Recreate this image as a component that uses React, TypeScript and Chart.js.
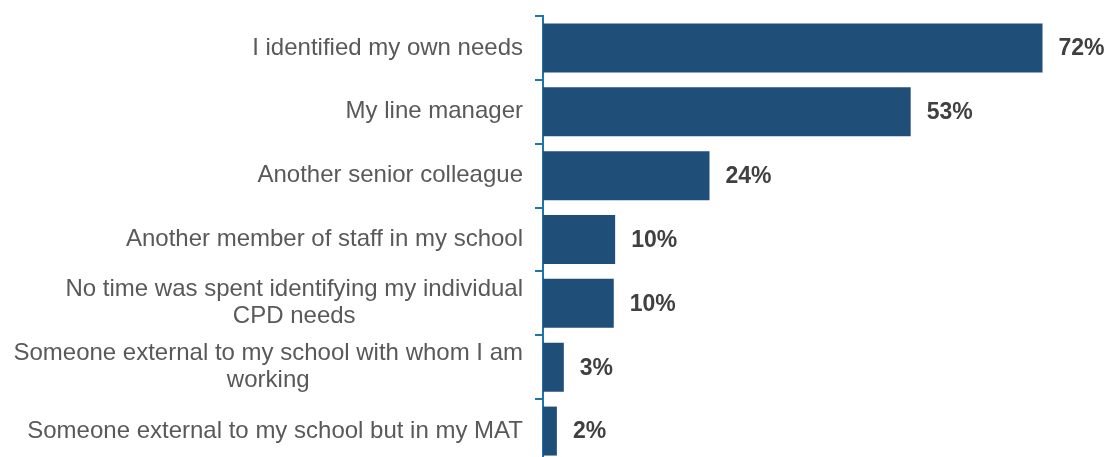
import React, { useEffect, useRef } from "react";
import { Chart, registerables } from "chart.js";

Chart.register(...registerables);

const categories: string[][] = [
  ["I identified my own needs"],
  ["My line manager"],
  ["Another senior colleague"],
  ["Another member of staff in my school"],
  ["No time was spent identifying my individual", "CPD needs"],
  ["Someone external to my school with whom I am", "working"],
  ["Someone external to my school but in my MAT"],
];
const values: number[] = [72, 53, 24, 10.4, 10.2, 3, 2];
const valueLabels: string[] = ["72%", "53%", "24%", "10%", "10%", "3%", "2%"];

const FONT = "'Liberation Sans', Arial, sans-serif";
const AXIS_LEFT = 543;
const LABEL_RIGHT = 523;

const labelPlugin = {
  id: "customLabels",
  afterDatasetsDraw(chart: any) {
    const ctx = chart.ctx;
    const yScale = chart.scales.y;
    const meta = chart.getDatasetMeta(0);
    ctx.save();
    ctx.textBaseline = "middle";
    ctx.font = `24px ${FONT}`;
    ctx.fillStyle = "#595959";
    const lh = 27;
    categories.forEach((lines, i) => {
      const y = yScale.getPixelForTick(i);
      const maxW = Math.max(...lines.map((l) => ctx.measureText(l).width));
      const cx = LABEL_RIGHT - maxW / 2;
      ctx.textAlign = "center";
      lines.forEach((l, j) => {
        const ly = y + (j - (lines.length - 1) / 2) * lh;
        ctx.fillText(l, cx, ly);
      });
    });
    ctx.font = `bold 23px ${FONT}`;
    ctx.fillStyle = "#404040";
    ctx.textAlign = "left";
    meta.data.forEach((bar: any, i: number) => {
      ctx.fillText(valueLabels[i], bar.x + 16, bar.y + 1);
    });
    ctx.restore();
  },
};

export default function App() {
  const ref = useRef<HTMLCanvasElement>(null);
  useEffect(() => {
    document.body.style.margin = "0";
    document.body.style.overflow = "hidden";
    const chart = new Chart(ref.current!, {
      type: "bar",
      data: {
        labels: categories.map((c) => c.join(" ")),
        datasets: [
          {
            data: values,
            backgroundColor: "#1F4E79",
            borderWidth: 0,
            categoryPercentage: 1,
            barPercentage: 0.767,
          },
        ],
      },
      options: {
        indexAxis: "y",
        animation: false,
        responsive: false,
        maintainAspectRatio: false,
        layout: { padding: { top: 16, right: 10, bottom: 0, left: 0 } },
        plugins: { legend: { display: false }, tooltip: { enabled: false } },
        scales: {
          x: {
            display: false,
            min: 0,
            max: 80,
          },
          y: {
            afterFit: (s: any) => {
              s.width = AXIS_LEFT;
            },
            border: { display: true, color: "#1F74AC", width: 2 },
            grid: {
              display: true,
              offset: true,
              drawOnChartArea: false,
              drawTicks: true,
              tickLength: 8,
              color: "#1F74AC",
              lineWidth: 2,
            },
            ticks: { display: false },
          },
        },
      },
      plugins: [labelPlugin],
    });
    return () => chart.destroy();
  }, []);
  return (
    <div style={{ width: 1108, height: 457, overflow: "hidden" }}>
      <canvas ref={ref} width={1108} height={463} />
    </div>
  );
}
